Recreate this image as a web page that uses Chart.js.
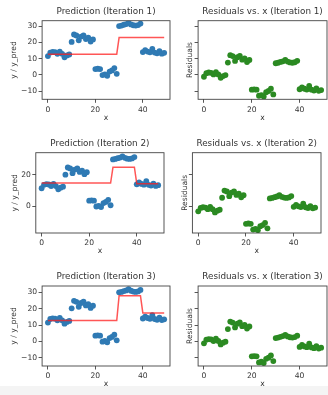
<!DOCTYPE html>
<html>
<head>
<meta charset="utf-8">
<script src="https://cdn.jsdelivr.net/npm/chart.js@4"></script>
<style>
html, body { margin: 0; padding: 0; background: #fff; width: 328px; height: 395px; overflow: hidden; }
body { position: relative; }
canvas { position: absolute; }
#foot { position: absolute; left: 0; top: 386px; width: 328px; height: 9px; background: #f4f4f4; }
</style>
</head>
<body>
<div id="foot"></div>
<canvas id="c1"></canvas>
<canvas id="c2"></canvas>
<canvas id="c3"></canvas>
<canvas id="c4"></canvas>
<canvas id="c5"></canvas>
<canvas id="c6"></canvas>
<script>
const xs = [0, 1, 2, 3, 4, 5, 6, 7, 8, 9, 10, 11, 12, 13, 14, 15, 16, 17, 18, 19,
    20, 21, 22, 23, 24, 25, 26, 27, 28, 29, 30, 31, 32, 33, 34, 35, 36, 37, 38, 39,
    40, 41, 42, 43, 44, 45, 46, 47, 48, 49];

const yTrue = [11.5, 13.7, 14.1, 13.9, 12.9, 14.3, 12.9, 10.8, 11.9, 12.5,
    20.2, 24.8, 24.2, 21.2, 23.5, 24.3, 22.0, 22.8, 20.5, 21.8,
    3.5, 3.7, 3.5, -0.2, 0.2, -0.6, 2.0, 2.7, 4.1, 0.6,
    30.0, 30.3, 30.8, 31.2, 32.0, 31.0, 30.5, 30.3, 30.6, 31.5,
    14.0, 15.2, 14.3, 13.8, 16.0, 13.7, 13.2, 14.5, 13.0, 13.5];

const pred1 = [12.7, 12.7, 12.7, 12.7, 12.7, 12.7, 12.7, 12.7, 12.7, 12.7,
    12.7, 12.7, 12.7, 12.7, 12.7, 12.7, 12.7, 12.7, 12.7, 12.7,
    12.7, 12.7, 12.7, 12.7, 12.7, 12.7, 12.7, 12.7, 12.7, 12.7,
    22.9, 22.9, 22.9, 22.9, 22.9, 22.9, 22.9, 22.9, 22.9, 22.9,
    22.9, 22.9, 22.9, 22.9, 22.9, 22.9, 22.9, 22.9, 22.9, 22.9];
const pred2 = [14.8, 14.8, 14.8, 14.8, 14.8, 14.8, 14.8, 14.8, 14.8, 14.8,
    14.8, 14.8, 14.8, 14.8, 14.8, 14.8, 14.8, 14.8, 14.8, 14.8,
    14.8, 14.8, 14.8, 14.8, 14.8, 14.8, 14.8, 14.8, 14.8, 14.8,
    25.0, 25.0, 25.0, 25.0, 25.0, 25.0, 25.0, 25.0, 25.0, 25.0,
    14.4, 14.4, 14.4, 14.4, 14.4, 14.4, 14.4, 14.4, 14.4, 14.4];
const pred3 = [12.7, 12.7, 12.7, 12.7, 12.7, 12.7, 12.7, 12.7, 12.7, 12.7,
    12.7, 12.7, 12.7, 12.7, 12.7, 12.7, 12.7, 12.7, 12.7, 12.7,
    12.7, 12.7, 12.7, 12.7, 12.7, 12.7, 12.7, 12.7, 12.7, 12.7,
    28.0, 28.0, 28.0, 28.0, 28.0, 28.0, 28.0, 28.0, 28.0, 28.0,
    17.4, 17.4, 17.4, 17.4, 17.4, 17.4, 17.4, 17.4, 17.4, 17.4];

const resid1 = [-1.2, 1.0, 1.4, 1.2, 0.2, 1.6, 0.2, -1.9, -0.8, -0.2,
    7.5, 12.1, 11.5, 8.5, 10.8, 11.6, 9.3, 10.1, 7.8, 9.1,
    -9.2, -9.0, -9.2, -12.9, -12.5, -13.3, -10.7, -10.0, -8.6, -12.1,
    7.1, 7.4, 7.9, 8.3, 9.1, 8.1, 7.6, 7.4, 7.7, 8.6,
    -8.9, -7.7, -8.6, -9.1, -6.9, -9.2, -9.7, -8.4, -9.9, -9.4];
const resid2 = [-3.3, -1.1, -0.7, -0.9, -1.9, -0.5, -1.9, -4.0, -2.9, -2.3,
    5.4, 10.0, 9.4, 6.4, 8.7, 9.5, 7.2, 8.0, 5.7, 7.0,
    -11.3, -11.1, -11.3, -15.0, -14.6, -15.4, -12.8, -12.1, -10.7, -14.2,
    5.0, 5.3, 5.8, 6.2, 7.0, 6.0, 5.5, 5.3, 5.6, 6.5,
    -0.4, 0.8, -0.1, -0.6, 1.6, -0.7, -1.2, 0.1, -1.4, -0.9];
const resid3 = [-1.2, 1.0, 1.4, 1.2, 0.2, 1.6, 0.2, -1.9, -0.8, -0.2,
    7.5, 12.1, 11.5, 8.5, 10.8, 11.6, 9.3, 10.1, 7.8, 9.1,
    -9.2, -9.0, -9.2, -12.9, -12.5, -13.3, -10.7, -10.0, -8.6, -12.1,
    2.0, 2.3, 2.8, 3.2, 4.0, 3.0, 2.5, 2.3, 2.6, 3.5,
    -3.4, -2.2, -3.1, -3.6, -1.4, -3.7, -4.2, -2.9, -4.4, -3.9];

const xTicks = [0, 20, 40];
const yTicksRow = [[-10, 0, 10, 20, 30], [0, 20], [-10, 0, 10, 20, 30]];
const yRangeRow = [[-15.1, 33.3], [-17.2, 34.3], [-15.1, 33.9]];
const predTitles = ['Prediction (Iteration 1)', 'Prediction (Iteration 2)', 'Prediction (Iteration 3)'];
const residTitles = ['Residuals vs. x (Iteration 1)', 'Residuals vs. x (Iteration 2)', 'Residuals vs. x (Iteration 3)'];
const preds = [pred1, pred2, pred3];
const resids = [resid1, resid2, resid3];

// axes boxes in page pixels: [left, right] per column for each row, [top, bottom] per row
const rowTB = [[20.7, 99.3], [152.7, 233], [286, 366]];
const rowLR = [
    [[42.1, 172], [198.1, 328.5]],
    [[35.8, 165.2], [192.4, 322.8]],
    [[42.1, 172], [198.1, 328.5]]
];
// page x of the centre of the rotated y-axis label
const yLabelX = [[14, 190.5], [15, 185], [14, 190.5]];

const FONT = 'DejaVu Sans';
const TXT = '#333';
const tickFont = { family: FONT, size: 7.6 };
const titleFont = { family: FONT, size: 8.8 };

const pts = arr => xs.map((x, i) => ({ x: x, y: arr[i] }));
const fmt = v => v < 0 ? '\u2212' + Math.abs(v) : String(v);

const framePlugin = {
    id: 'frame',
    afterDatasetsDraw(chart) {
        const a = chart.chartArea, c = chart.ctx;
        c.save();
        c.strokeStyle = '#444';
        c.lineWidth = 0.9;
        c.strokeRect(a.left, a.top, a.right - a.left, a.bottom - a.top);
        c.restore();
    },
    afterDraw(chart, args, opts) {
        const a = chart.chartArea, c = chart.ctx;
        c.save();
        c.fillStyle = TXT;
        c.font = titleFont.size + 'px "' + FONT + '"';
        c.textAlign = 'center';
        c.textBaseline = 'middle';
        c.fillText(opts.text, (a.left + a.right) / 2, a.top - 9.3);
        c.restore();
    }
};

function makePanel(id, row, col) {
    const [t, b] = rowTB[row];
    const [l, r] = rowLR[row][col];
    const T = 18, B = 27, R = 2;
    const ly0 = col === 0 ? 42 : 30;
    const cl = Math.floor(l - ly0), ct = Math.floor(t - T);
    const Ly = l - cl, Tp = t - ct;
    const w = Math.ceil(r + R - cl), h = Math.ceil(b + B - ct);
    const cv = document.getElementById(id);
    cv.width = w; cv.height = h;
    cv.style.left = cl + 'px'; cv.style.top = ct + 'px';
    const Rp = w - (r - cl);
    const Bh = h - (b - ct);
    const labelPad = yLabelX[row][col] - cl - tickFont.size * 0.6;

    const isPred = col === 0;
    const datasets = [];
    if (isPred) {
        datasets.push({
            data: pts(preds[row]), showLine: true, borderColor: 'rgba(255,30,30,0.75)',
            borderWidth: 1.5, pointRadius: 0, fill: false
        });
        datasets.push({
            data: pts(yTrue), backgroundColor: '#2f7ab4', borderWidth: 0, pointRadius: 2.9
        });
    } else {
        datasets.push({
            data: pts(resids[row]), backgroundColor: '#2b8a22', borderWidth: 0, pointRadius: 2.9
        });
    }

    new Chart(cv, {
        type: 'scatter',
        data: { datasets: datasets },
        plugins: [framePlugin],
        options: {
            responsive: false,
            animation: false,
            layout: { padding: { top: Tp, right: Rp, left: 0, bottom: 0 } },
            plugins: {
                legend: { display: false },
                tooltip: { enabled: false },
                frame: { text: isPred ? predTitles[row] : residTitles[row] }
            },
            scales: {
                x: {
                    type: 'linear', min: -2.45, max: 51.45,
                    afterBuildTicks: s => { s.ticks = xTicks.map(v => ({ value: v })); },
                    afterFit: s => { s.height = Bh; },
                    grid: { drawOnChartArea: false, drawTicks: true, tickLength: 3.5, color: '#444', lineWidth: 0.9 },
                    border: { display: false },
                    ticks: { font: tickFont, color: TXT, padding: 2.2, maxRotation: 0, autoSkip: false, callback: fmt },
                    title: { display: true, text: 'x', font: tickFont, color: TXT, padding: { top: 0, bottom: 4.3 } }
                },
                y: {
                    type: 'linear', min: yRangeRow[row][0], max: yRangeRow[row][1],
                    afterBuildTicks: s => { s.ticks = yTicksRow[row].map(v => ({ value: v })); },
                    afterFit: s => { s.width = Ly; },
                    grid: { drawOnChartArea: false, drawTicks: true, tickLength: 3.5, color: '#444', lineWidth: 0.9 },
                    border: { display: false },
                    ticks: {
                        font: tickFont, color: TXT, padding: 1.5, autoSkip: false,
                        callback: isPred ? fmt : () => ''
                    },
                    title: {
                        display: true, text: isPred ? 'y / y_pred' : 'Residuals', font: tickFont, color: TXT,
                        padding: { top: labelPad, bottom: 0 }
                    }
                }
            }
        }
    });
}

makePanel('c1', 0, 0);
makePanel('c2', 0, 1);
makePanel('c3', 1, 0);
makePanel('c4', 1, 1);
makePanel('c5', 2, 0);
makePanel('c6', 2, 1);
</script>
</body>
</html>
